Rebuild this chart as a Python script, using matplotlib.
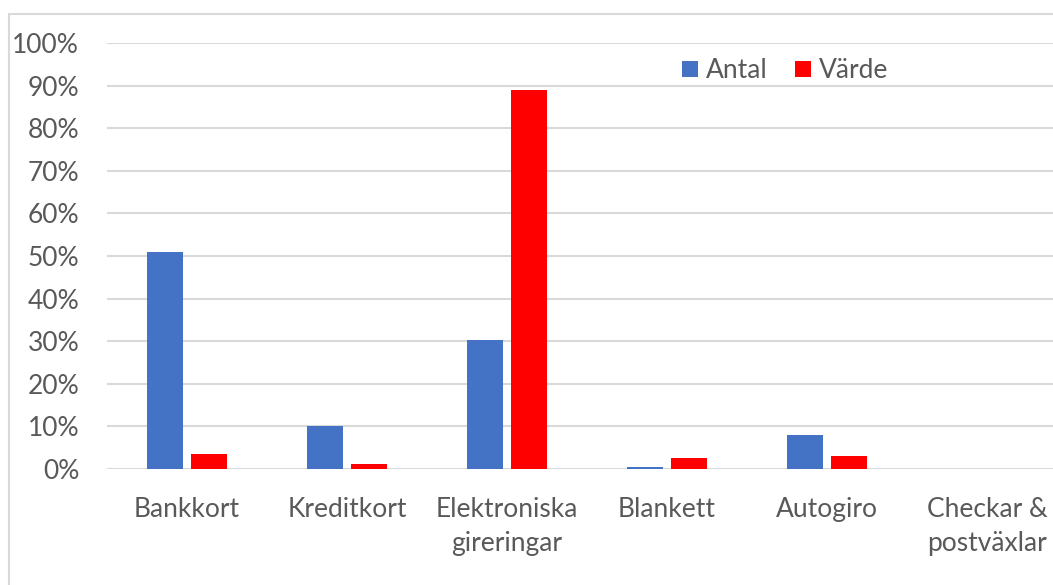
import matplotlib

matplotlib.use("Agg")
import matplotlib.pyplot as plt
import numpy as np
from matplotlib.patches import Rectangle

# Data (percent)
kategorier = ["Bankkort", "Kreditkort", "Elektroniska\ngireringar", "Blankett",
              "Autogiro", "Checkar &\npostväxlar"]
antal = [51, 10, 30.2, 0.5, 8, 0]
varde = [3.5, 1.2, 89, 2.6, 3, 0]
y_ticks = [0, 10, 20, 30, 40, 50, 60, 70, 80, 90, 100]

BLA = "#4472C4"
ROD = "#FF0000"
TEXT = "#595959"
GRID = "#D9D9D9"

plt.rcParams["font.family"] = ["Lato", "DejaVu Sans"]

fig = plt.figure(figsize=(10.53, 5.85), dpi=100)
# plot area runs a little past the right edge of the image (as in the reference)
ax = fig.add_axes([107 / 1053, 1 - 469 / 585, 960 / 1053, (469 - 43) / 585])

# outer chart frame
fig.patches.append(Rectangle((9 / 1053, -0.1), 1.2, 1 - 14 / 585 + 0.1,
                             transform=fig.transFigure, fill=False,
                             edgecolor=GRID, linewidth=1.5))

x = np.arange(len(kategorier))
ancho = 0.225
ax.bar(x - 0.025 - ancho / 2, antal, ancho, color=BLA, label="Antal", zorder=3)
ax.bar(x + 0.025 + ancho / 2, varde, ancho, color=ROD, label="Värde", zorder=3)

ax.set_xlim(-0.5, len(kategorier) - 0.5)
ax.set_ylim(0, 100)
ax.set_yticks(y_ticks)
ax.set_yticklabels([f"{v}%" for v in y_ticks])
ax.set_xticks(x)
ax.set_xticklabels(kategorier, linespacing=1.45, va="top")

ax.yaxis.grid(True, color=GRID, linewidth=1.5, zorder=0)
ax.set_axisbelow(True)
for lado in ax.spines.values():
    lado.set_visible(False)
ax.tick_params(axis="both", length=0, labelsize=19, colors=TEXT)
ax.tick_params(axis="y", pad=20)
ax.tick_params(axis="x", pad=20)

ax.legend(loc="upper left", bbox_to_anchor=(0.574, 1.02), ncol=2, frameon=False,
          fontsize=19, labelcolor=TEXT, handlelength=0.6, handleheight=0.6,
          handletextpad=0.3, columnspacing=1.05)

fig.savefig("out.png", dpi=100)
